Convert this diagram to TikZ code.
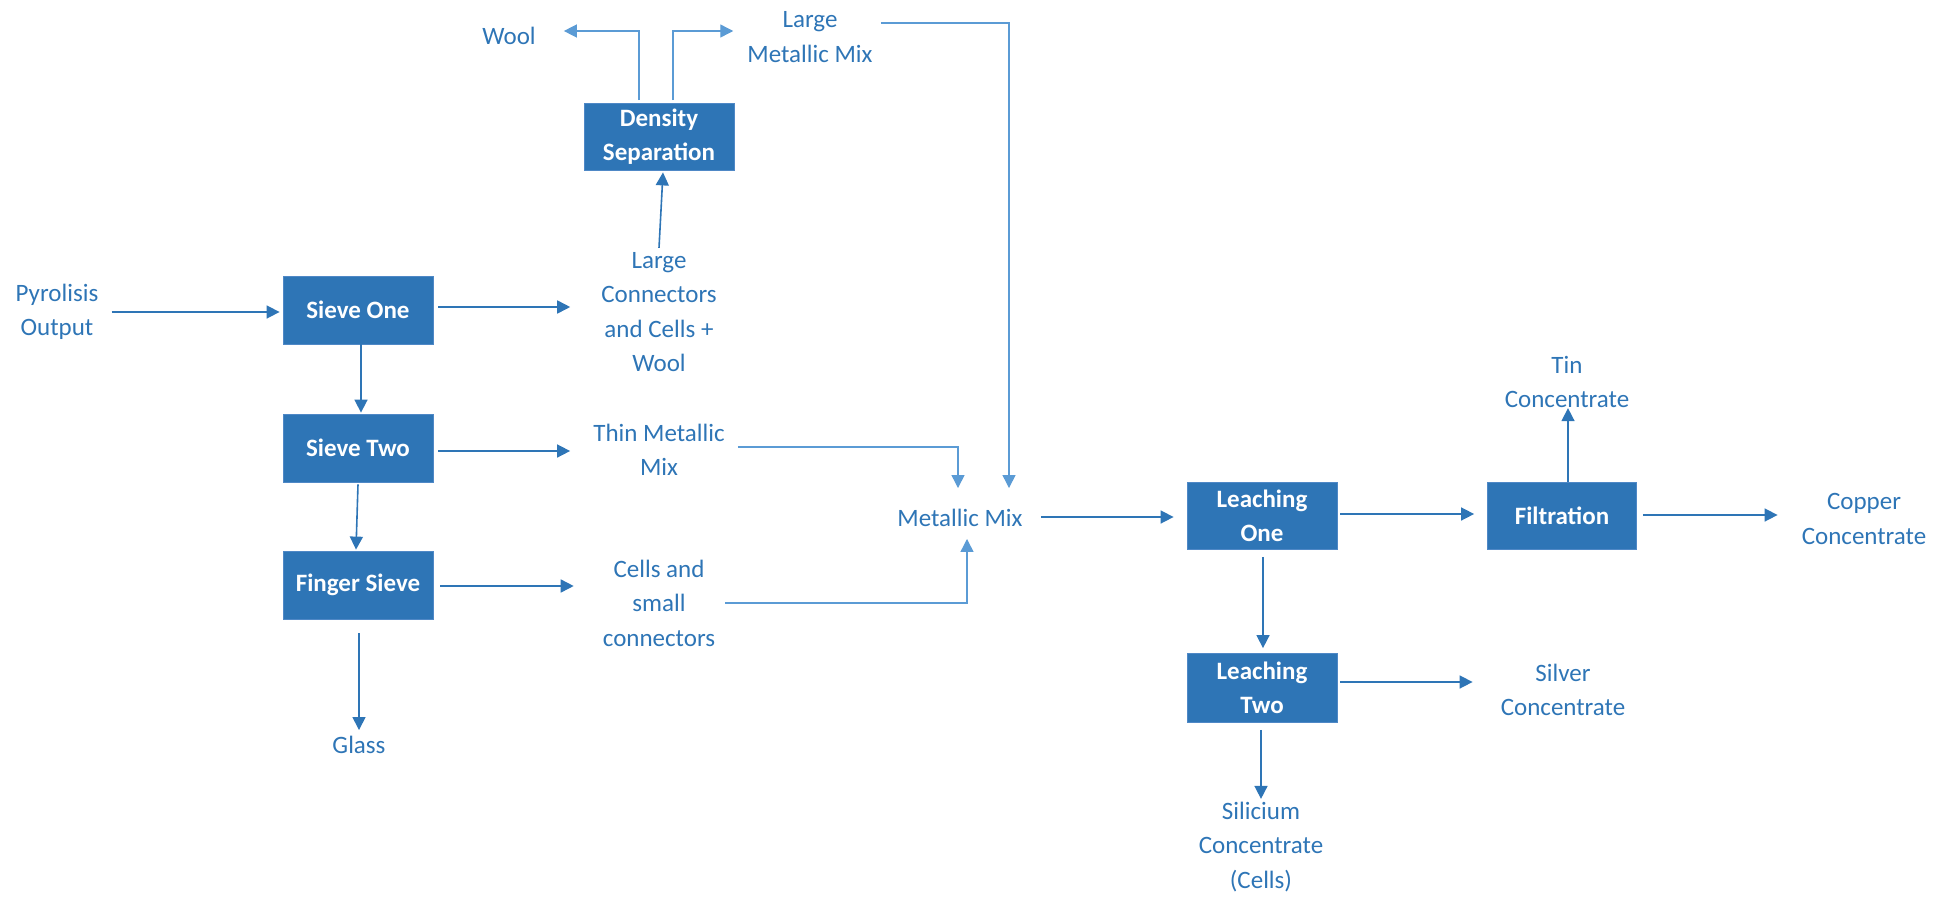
\documentclass[tikz,border=0pt]{standalone}
\usepackage{fontspec}
\setmainfont{Carlito}
\usetikzlibrary{arrows.meta,calc}
\definecolor{boxblue}{HTML}{2E75B6}
\definecolor{boxedge}{HTML}{4F88C6}
\definecolor{lblblue}{HTML}{2E75B6}
\definecolor{lineblue}{HTML}{2E75B6}
\definecolor{lightblue}{HTML}{5B9BD5}
\tikzset{
  box/.style={draw=boxedge, line width=0.8pt, fill=boxblue, text=white,
    font=\bfseries\fontsize{25}{34}\selectfont, minimum width=150pt,
    minimum height=68pt, align=center, inner sep=0pt},
  lbl/.style={text=lblblue, font=\fontsize{25}{34.5}\selectfont, align=center, inner sep=0pt},
  arr/.style={draw=lineblue, line width=1.6pt, -{Triangle[length=13pt,width=13pt]}},
  arrl/.style={draw=lightblue, line width=1.4pt, -{Triangle[length=13pt,width=13pt]}},
}
\begin{document}
\begin{tikzpicture}[x=1pt,y=-1pt]
\useasboundingbox (0,0) rectangle (1946,897);
% boxes
\node[box] (s1) at (358,310) {Sieve One};
\node[box] (s2) at (358,448) {Sieve Two};
\node[box] (fs) at (358,585) {Finger Sieve};
\node[box, minimum height=67pt] (ds) at (659,137) {Density\\Separation};
\node[box, minimum height=67pt] (l1) at (1262,516) {Leaching\\One};
\node[box, minimum height=67pt, minimum width=149pt] (filt) at (1562,516) {Filtration};
\node[box, minimum height=69pt] (l2) at (1262,688) {Leaching\\Two};
% labels
\node[lbl] (pyro) at (57,312) {Pyrolisis\\Output};
\node[lbl] (glass) at (359,745) {Glass};
\node[lbl] (lc) at (659,312) {Large\\Connectors\\and Cells +\\Wool};
\node[lbl] (tm) at (659,450) {Thin Metallic\\Mix};
\node[lbl] (cs) at (659,603) {Cells and\\small\\connectors};
\node[lbl] (wool) at (509,36) {Wool};
\node[lbl] (lmm) at (810,37) {Large\\Metallic Mix};
\node[lbl] (mm) at (960,518) {Metallic Mix};
\node[lbl] (tin) at (1567,382) {Tin\\Concentrate};
\node[lbl] (copper) at (1864,519) {Copper\\Concentrate};
\node[lbl] (silver) at (1563,690) {Silver\\Concentrate};
\node[lbl] (sil) at (1261,847) {Silicium\\Concentrate\\(Cells)};
% connectors
\draw[arr] ([shift={(13,0)}]pyro.east) -- ([shift={(-3,0)}]pyro.east -| s1.west);
\draw[arr] ([shift={(3,0)}]s1.south) -- ([shift={(3,-1)}]s2.north);
\draw[arr] ([shift={(0,2)}]s2.south) -- ([shift={(-2,-1)}]fs.north);
\draw[arr] ([shift={(1,14)}]fs.south) -- ([shift={(0,-6)}]glass.north);
\draw[arr] ([shift={(5,-3)}]s1.east) -- ([shift={(-31,-3)}]s1.east -| lc.west);
\draw[arr] ([shift={(5,3)}]s2.east) -- ([shift={(-23,3)}]s2.east -| tm.west);
\draw[arr] ([shift={(7,1)}]fs.east) -- ([shift={(-29,1)}]fs.east -| cs.west);
\draw[arr] ([shift={(0,-4)}]lc.north) -- ([shift={(4,1.5)}]ds.south);
\draw[arrl] ([shift={(-20,-3)}]ds.north) |- ([shift={(28,-5)}]wool.east);
\draw[arrl] ([shift={(14,-3)}]ds.north) |- ([shift={(-14,-6)}]lmm.west);
\draw[arrl] ([shift={(8,-14)}]lmm.east) -| ([shift={(49,-21)}]mm.north);
\draw[arrl] ([shift={(13,-3)}]tm.east) -| ([shift={(-2,-21)}]mm.north);
\draw[arrl] ([shift={(10,0)}]cs.east) -| ([shift={(7,12)}]mm.south);
\draw[arr] ([shift={(18,-1)}]mm.east) -- ([shift={(-13,-1)}]mm.east -| l1.west);
\draw[arr] ([shift={(3,-2)}]l1.east) -- ([shift={(-13,-2)}]filt.west);
\draw[arr] ([shift={(6,0)}]filt.north) -- ([shift={(6,0)}]filt.north |- tin.south);
\draw[arr] ([shift={(6,-1)}]filt.east) -- ([shift={(-24,-1)}]filt.east -| copper.west);
\draw[arr] ([shift={(1,7)}]l1.south) -- ([shift={(1,-5)}]l2.north);
\draw[arr] ([shift={(3,-6)}]l2.east) -- ([shift={(-28,-6)}]l2.east -| silver.west);
\draw[arr] ([shift={(-1,7)}]l2.south) -- ([shift={(0,-3)}]sil.north);
\end{tikzpicture}
\end{document}
